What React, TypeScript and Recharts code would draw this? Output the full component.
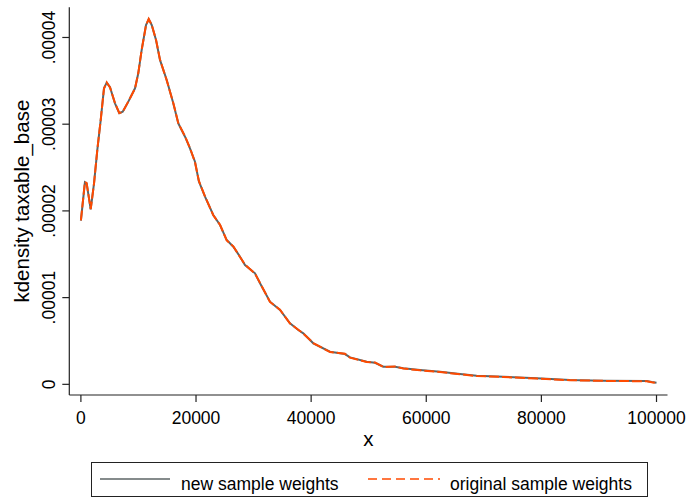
import React from 'react';
import { LineChart, Line, XAxis, YAxis, Legend, ReferenceArea } from 'recharts';

const xValues = [
  0, 700, 1000, 1700, 2280, 2850, 3440, 4010, 4480, 5060, 5920, 6670, 7260, 8240, 9400, 9970,
  10560, 11310, 11780, 12300, 13050, 13740, 14910, 16050, 16920, 18090, 18950, 19820, 20500,
  21560, 23000, 24170, 25330, 26480, 27640, 28510, 30250, 31120, 32850, 34590, 36330, 37770,
  38640, 40380, 43280, 45880, 46750, 49650, 51090, 52540, 54570, 56010, 58910, 62390, 65860,
  68760, 73390, 79190, 84970, 90760, 98300, 99170, 100000,
];

const newSampleWeights = [
  1.887e-5, 2.33e-5, 2.318e-5, 2.018e-5, 2.318e-5, 2.702e-5, 3.048e-5, 3.414e-5, 3.479e-5, 3.426e-5,
  3.241e-5, 3.126e-5, 3.144e-5, 3.26e-5, 3.414e-5, 3.587e-5, 3.856e-5, 4.144e-5, 4.21e-5, 4.144e-5,
  3.971e-5, 3.741e-5, 3.51e-5, 3.241e-5, 3.01e-5, 2.856e-5, 2.722e-5, 2.567e-5, 2.34e-5, 2.164e-5,
  1.953e-5, 1.837e-5, 1.664e-5, 1.587e-5, 1.472e-5, 1.376e-5, 1.28e-5, 1.165e-5, 0.953e-5, 0.857e-5,
  0.704e-5, 0.626e-5, 0.588e-5, 0.473e-5, 0.376e-5, 0.349e-5, 0.311e-5, 0.261e-5, 0.249e-5, 0.203e-5,
  0.203e-5, 0.185e-5, 0.165e-5, 0.145e-5, 0.119e-5, 0.099e-5, 0.088e-5, 0.069e-5, 0.05e-5, 0.042e-5,
  0.038e-5, 0.026e-5, 0.018e-5,
];

const originalSampleWeights = [
  1.89e-5, 2.335e-5, 2.32e-5, 2.02e-5, 2.315e-5, 2.705e-5, 3.05e-5, 3.41e-5, 3.482e-5, 3.424e-5,
  3.245e-5, 3.128e-5, 3.142e-5, 3.262e-5, 3.41e-5, 3.59e-5, 3.86e-5, 4.14e-5, 4.214e-5, 4.146e-5,
  3.975e-5, 3.745e-5, 3.505e-5, 3.245e-5, 3.012e-5, 2.86e-5, 2.725e-5, 2.562e-5, 2.345e-5, 2.168e-5,
  1.95e-5, 1.84e-5, 1.66e-5, 1.592e-5, 1.468e-5, 1.38e-5, 1.276e-5, 1.17e-5, 0.95e-5, 0.86e-5,
  0.7e-5, 0.63e-5, 0.585e-5, 0.476e-5, 0.372e-5, 0.352e-5, 0.308e-5, 0.258e-5, 0.252e-5, 0.2e-5,
  0.206e-5, 0.182e-5, 0.162e-5, 0.142e-5, 0.116e-5, 0.096e-5, 0.085e-5, 0.066e-5, 0.048e-5, 0.04e-5,
  0.035e-5, 0.024e-5, 0.016e-5,
];

const xTicks = [0, 20000, 40000, 60000, 80000, 100000];
const yTicks = [0, 0.00001, 0.00002, 0.00003, 0.00004];

const seriesNames = ['new sample weights', 'original sample weights'];
const xTitle = 'x';
const yTitle = 'kdensity taxable_base';

const data = xValues.map((x, i) => ({
  x,
  newW: newSampleWeights[i],
  origW: originalSampleWeights[i],
}));

const FONT = '"Liberation Sans", Arial, Helvetica, sans-serif';
const GRAY = '#5d6566';
const ORANGE = '#ff4a00';

const fmtY = (v: number) => (v === 0 ? '0' : v.toFixed(5).replace(/^0/, ''));

const XTick = (props: any) => {
  const { x, y, payload } = props;
  return (
    <text x={x} y={y + 20} textAnchor="middle" fontSize={17.5} fontFamily={FONT} fill="#000">
      {String(payload.value)}
    </text>
  );
};

const YTick = (props: any) => {
  const { x, y, payload } = props;
  const tx = x - 5;
  return (
    <text
      x={tx}
      y={y}
      transform={`rotate(-90, ${tx}, ${y})`}
      textAnchor="middle"
      fontSize={17.5}
      fontFamily={FONT}
      fill="#000"
    >
      {fmtY(payload.value)}
    </text>
  );
};

const YTitle = (props: any) => {
  const vb = props.viewBox || {};
  const tx = (vb.x || 0) + 29;
  const ty = (vb.y || 0) + (vb.height || 0) / 2;
  return (
    <text
      x={tx}
      y={ty}
      transform={`rotate(-90, ${tx}, ${ty})`}
      textAnchor="middle"
      fontSize={20.5}
      fontFamily={FONT}
      fill="#000"
    >
      {yTitle}
    </text>
  );
};

const XTitle = (props: any) => {
  const vb = props.viewBox || {};
  const tx = (vb.x || 0) + (vb.width || 0) / 2;
  const ty = (vb.y || 0) + 51;
  return (
    <text x={tx} y={ty} textAnchor="middle" fontSize={20.5} fontFamily={FONT} fill="#000">
      {xTitle}
    </text>
  );
};

const LegendBox = () => (
  <div
    style={{
      position: 'relative',
      width: 557,
      height: 35,
      boxSizing: 'border-box',
      border: '1px solid #222',
      fontFamily: FONT,
      fontSize: 17.5,
      color: '#000',
      background: '#fff',
    }}
  >
    <svg width={557} height={35} style={{ position: 'absolute', left: -1, top: -1 }}>
      <line x1={9} y1={17} x2={79} y2={17} stroke={GRAY} strokeWidth={1.5} />
      <line x1={277} y1={17} x2={349} y2={17} stroke={ORANGE} strokeWidth={1.5} strokeDasharray="9 5" />
      <text x={90} y={28} fontSize={17.5} fontFamily={FONT} fill="#000">
        {seriesNames[0]}
      </text>
      <text x={359} y={28} fontSize={17.5} fontFamily={FONT} fill="#000">
        {seriesNames[1]}
      </text>
    </svg>
  </div>
);

export default function App() {
  return (
    <div style={{ position: 'absolute', left: 0, top: 0, width: 691, height: 502, background: '#fff' }}>
      <LineChart
        width={691}
        height={502}
        data={data}
        margin={{ top: 7.3, right: 23.5, left: 0, bottom: 0 }}
      >
        <XAxis
          dataKey="x"
          type="number"
          domain={[-2015, 101910]}
          ticks={xTicks}
          allowDataOverflow
          height={107}
          tickSize={7}
          tickMargin={2}
          tick={<XTick />}
          axisLine={{ stroke: '#222', strokeWidth: 1.2 }}
          tickLine={{ stroke: '#222', strokeWidth: 1.2 }}
          label={<XTitle />}
          interval={0}
        />
        <YAxis
          type="number"
          domain={[-0.00000123, 0.00004348]}
          ticks={yTicks}
          allowDataOverflow
          width={69.3}
          tickSize={7}
          tickMargin={2}
          tick={<YTick />}
          axisLine={{ stroke: '#222', strokeWidth: 1.2 }}
          tickLine={{ stroke: '#222', strokeWidth: 1.2 }}
          label={<YTitle />}
          interval={0}
        />
        <ReferenceArea fill="none" stroke="#222" strokeWidth={1.2} ifOverflow="visible" />
        <Line
          type="linear"
          dataKey="newW"
          name={seriesNames[0]}
          stroke={GRAY}
          strokeWidth={2}
          dot={false}
          isAnimationActive={false}
        />
        <Line
          type="linear"
          dataKey="origW"
          name={seriesNames[1]}
          stroke={ORANGE}
          strokeWidth={2}
          strokeDasharray="10 3"
          dot={false}
          isAnimationActive={false}
        />
        <Legend
          layout="horizontal"
          verticalAlign="middle"
          align="center"
          content={<LegendBox />}
          wrapperStyle={{ left: 91, top: 462, width: 557, height: 35, right: 'auto', bottom: 'auto' }}
        />
      </LineChart>
    </div>
  );
}
